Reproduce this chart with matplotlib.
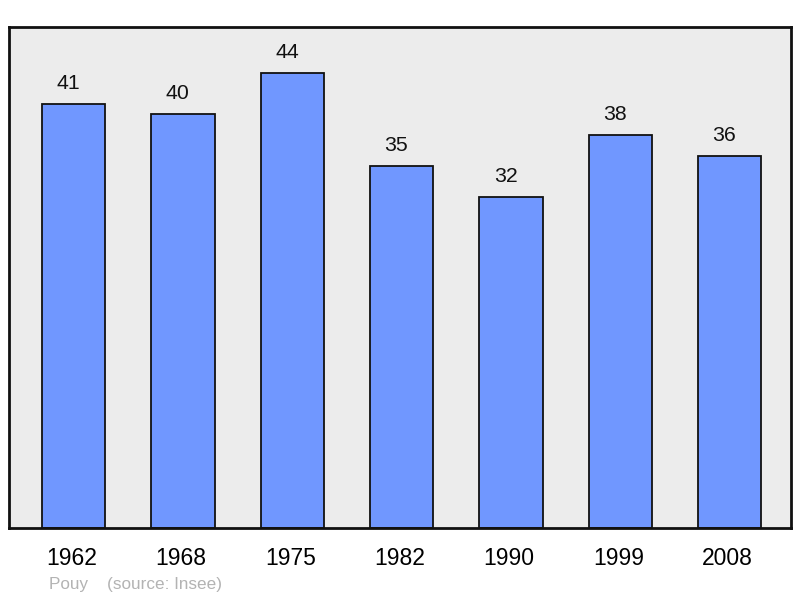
import matplotlib
matplotlib.use("Agg")
import matplotlib.pyplot as plt
import matplotlib.transforms as mtransforms

years = ["1962", "1968", "1975", "1982", "1990", "1999", "2008"]
population = [41, 40, 44, 35, 32, 38, 36]
commune = "Pouy"
source = "(source: Insee)"

plt.rcParams['font.family'] = ['Liberation Sans', 'DejaVu Sans']

fig = plt.figure(figsize=(8, 5.98), dpi=100)
ax = fig.add_axes([9/800, 1 - 528/598, 782/800, 501/598])
ax.set_facecolor('#ececec')

x = list(range(len(years)))
ax.bar(x, population, width=0.58, color='#7097ff', edgecolor='#111111', linewidth=1.3, zorder=2)
for xi, v in zip(x, population):
    ax.annotate(str(v), (xi, v), xytext=(-3.8, 10.8), textcoords='offset points',
                ha='center', va='baseline', fontsize=15.3, color='#111111')

ax.set_xlim(-0.59, 6.56)
ax.set_ylim(0, 48.45)
ax.set_xticks(x)
ax.set_xticklabels(years, fontsize=16.5)
ax.tick_params(axis='x', length=0, pad=14)
shift = mtransforms.ScaledTranslation(-2/100, 0, fig.dpi_scale_trans)
for lbl in ax.get_xticklabels():
    lbl.set_transform(lbl.get_transform() + shift)
ax.set_yticks([])
for s in ax.spines.values():
    s.set_linewidth(2)
    s.set_color('#111111')

fig.text(49/800, 1 - 584/598, commune + "    " + source, fontsize=12.3, color='#b3b3b3',
         ha='left', va='center')

fig.savefig('out.png', dpi=100)
